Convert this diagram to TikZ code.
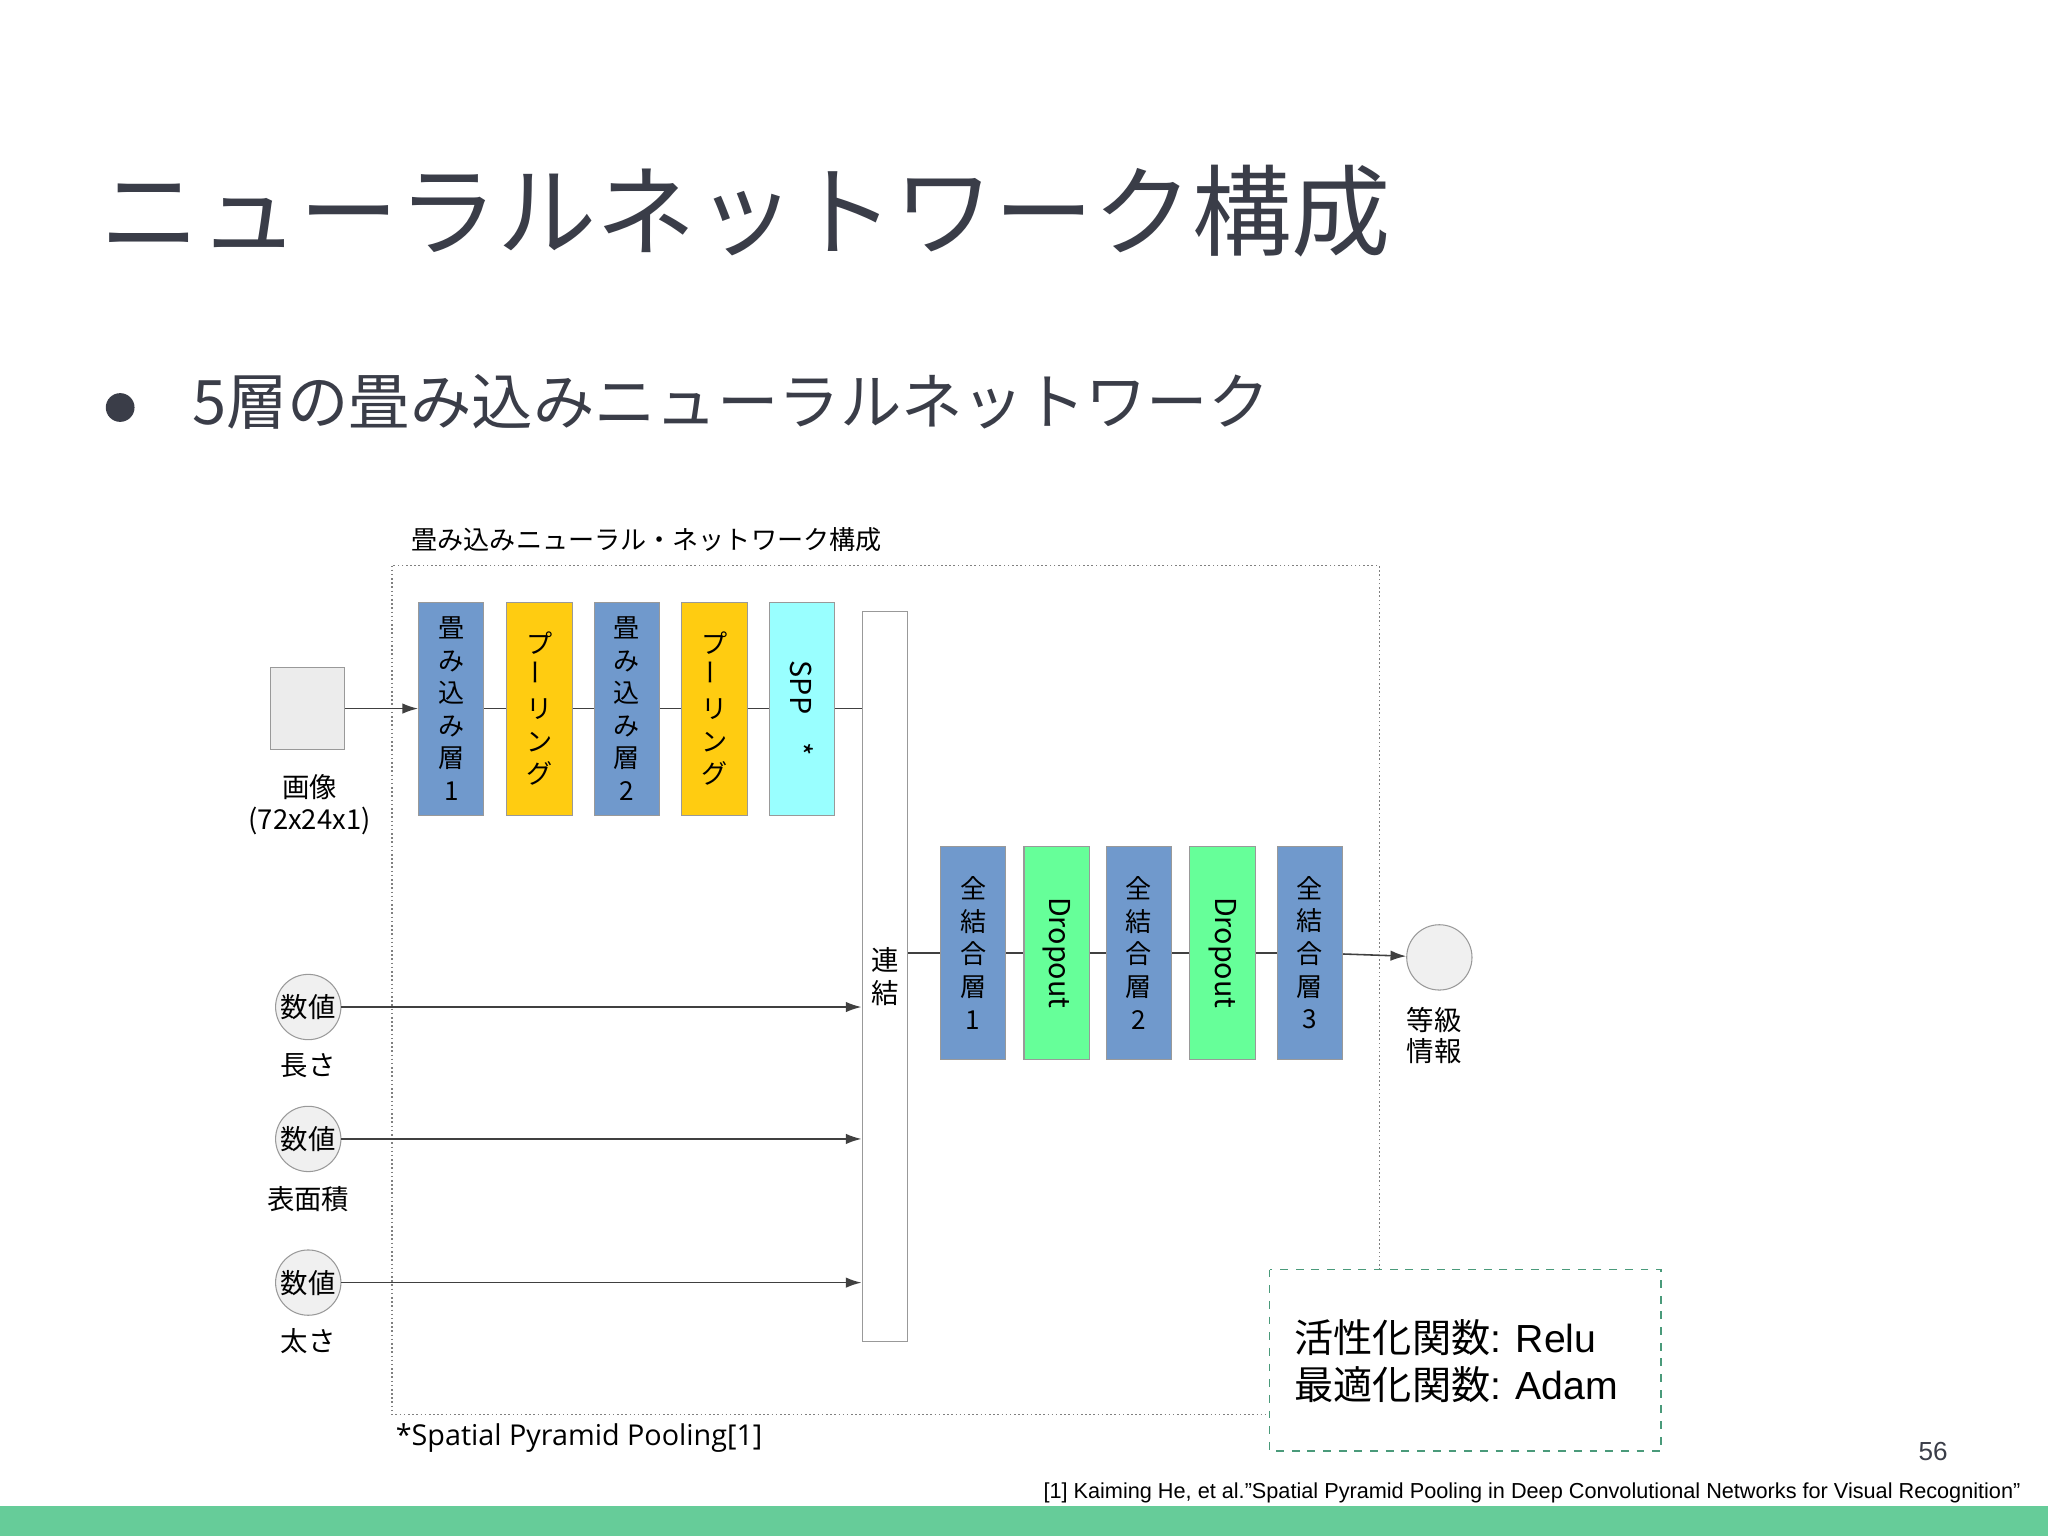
\documentclass[tikz,border=0pt]{standalone}
\usepackage{fontspec}
\setmainfont{Liberation Sans}
\newfontfamily\cjk{Noto Sans CJK JP}
\newfontfamily\osans{Open Sans}
\usetikzlibrary{arrows.meta}
\definecolor{ink}{HTML}{3A3D48}
\definecolor{bl}{HTML}{7099CC}
\definecolor{yl}{HTML}{FFCC11}
\definecolor{cy}{HTML}{99FFFF}
\definecolor{gr}{HTML}{66FF99}
\definecolor{bar}{HTML}{66CC99}
\definecolor{dg}{HTML}{4A9A7A}
\begin{document}
\begin{tikzpicture}[x=0.5pt,y=-0.5pt,
  blk/.style={draw=gray!80, minimum width=25pt, minimum height=81.5pt, inner sep=0pt, align=center, font=\cjk\fontsize{10}{12.5}\selectfont},
  num/.style={circle, draw=gray!80, fill=gray!12, minimum size=25pt, inner sep=0pt, font=\cjk\fontsize{10.5}{12}\selectfont},
  lab/.style={font=\cjk\fontsize{10.5}{12}\selectfont, align=center},
  ln/.style={draw=black!75, line width=0.6pt},
  arr/.style={ln, -{Latex[length=6pt,width=4pt]}}]
\useasboundingbox (0,0) rectangle (1568,1176);
\fill[white] (0,0) rectangle (1568,1176);
\node[anchor=west, text=ink, font=\cjk\fontsize{38}{40}\selectfont] (title) at (70,162) {ニューラルネットワーク構成};
\node[circle, fill=ink, minimum size=11pt, inner sep=0pt] (bul) at (92,312) {};
\node[anchor=west, text=ink, font=\cjk\fontsize{23.5}{26}\selectfont] (sub) at (140,308) {5層の畳み込みニューラルネットワーク};
\node[anchor=west, font=\cjk\fontsize{10}{12}\selectfont] (dlab) at (308,413) {畳み込みニューラル・ネットワーク構成};
\draw[gray, densely dotted, line width=0.6pt] (300,433) rectangle (1056,1083);
% image
\node[draw=gray!80, fill=gray!15, minimum width=28.5pt, minimum height=31.5pt, inner sep=0pt] (img) at (235.5,542.5) {};
\node[lab] (imgl) at (237,616) {画像\\(72x24x1)};
% top row
\node[blk, fill=bl] (b1) at (345.5,542.5) {畳\\み\\込\\み\\層\\1};
\node[blk, fill=yl] (b2) at (413,542.5) {プ\\\rotatebox{90}{ー}\\リ\\ン\\グ};
\node[blk, fill=bl] (b3) at (480,542.5) {畳\\み\\込\\み\\層\\2};
\node[blk, fill=yl] (b4) at (547,542.5) {プ\\\rotatebox{90}{ー}\\リ\\ン\\グ};
\node[blk, fill=cy] (b5) at (614,542.5) {\rotatebox{-90}{\fontsize{11}{12}\selectfont SPP\quad *}};
\node[draw=gray!80, fill=white, minimum width=17.5pt, minimum height=279.5pt, inner sep=0pt, align=center, font=\cjk\fontsize{10.5}{12.5}\selectfont] (cat) at (677.5,747.5) {連\\結};
\draw[arr] (img) -- (b1);
\draw[ln] (b1) -- (b2);
\draw[ln] (b2) -- (b3);
\draw[ln] (b3) -- (b4);
\draw[ln] (b4) -- (b5);
\draw[ln] (b5.east) -- (b5.east -| cat.west);
% middle row
\node[blk, fill=bl] (c1) at (745,729.5) {全\\結\\合\\層\\1};
\node[blk, fill=gr] (c2) at (809,729.5) {\rotatebox{-90}{\fontsize{11}{12}\selectfont Dropout}};
\node[blk, fill=bl] (c3) at (872,729.5) {全\\結\\合\\層\\2};
\node[blk, fill=gr] (c4) at (936,729.5) {\rotatebox{-90}{\fontsize{11}{12}\selectfont Dropout}};
\node[blk, fill=bl] (c5) at (1003,729.5) {全\\結\\合\\層\\3};
\node[num] (out) at (1102,733) {};
\node[lab] (outl) at (1098,793) {等級\\情報};
\draw[ln] (cat.east |- c1) -- (c1);
\draw[ln] (c1) -- (c2);
\draw[ln] (c2) -- (c3);
\draw[ln] (c3) -- (c4);
\draw[ln] (c4) -- (c5);
\draw[arr] (c5) -- (out);
% numeric inputs
\node[num] (n1) at (236,771) {数値};
\node[num] (n2) at (236,872) {数値};
\node[num] (n3) at (236,982) {数値};
\node[lab] (l1) at (236,816) {長さ};
\node[lab] (l2) at (236,918) {表面積};
\node[lab] (l3) at (236,1027) {太さ};
\draw[arr] (n1) -- (n1 -| cat.west);
\draw[arr] (n2) -- (n2 -| cat.west);
\draw[arr] (n3) -- (n3 -| cat.west);
% activation box
\draw[dg, dashed, line width=0.7pt, fill=white] (972,972) rectangle (1272,1111);
\node[anchor=west, align=left, font=\fontsize{15}{18}\selectfont] (act) at (984,1042) {{\cjk 活性化関数}: Relu\\{\cjk 最適化関数}: Adam};
\node[anchor=west, font=\osans\fontsize{11}{12}\selectfont] (spp) at (296,1101) {*Spatial Pyramid Pooling[1]};
\node[font=\fontsize{10}{12}\selectfont, text=ink] (pg) at (1480,1111) {56};
\node[anchor=east, font=\fontsize{8.3}{10}\selectfont] (ref) at (1554,1143) {[1] Kaiming He, et al.”Spatial Pyramid Pooling in Deep Convolutional Networks for Visual Recognition”};
\fill[bar] (0,1153) rectangle (1568,1176);
\end{tikzpicture}
\end{document}
